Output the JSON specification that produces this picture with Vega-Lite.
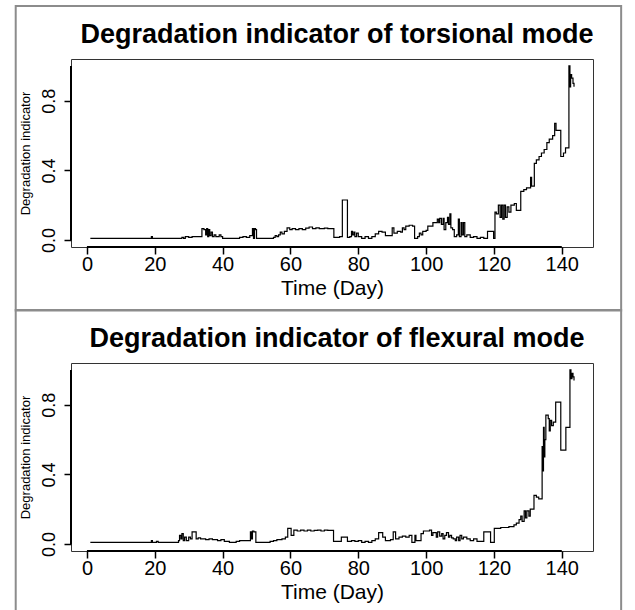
{
  "$schema": "https://vega.github.io/schema/vega-lite/v6.json",
  "padding": {"left": 14, "top": 4, "right": 5, "bottom": 0},
  "background": "white",
  "spacing": -5,
  "datasets": {
    "tor": [
      {"d":1,"v":0.01},{"d":18.8,"v":0.01},{"d":19,"v":0.02},{"d":19.3,"v":0.01},{"d":28,"v":0.015},{"d":28.5,"v":0.01},{"d":29,"v":0.02},{"d":30,"v":0.015},{"d":31,"v":0.02},{"d":33.9,"v":0.065},{"d":34.5,"v":0.06},{"d":35,"v":0.03},{"d":35.3,"v":0.065},{"d":35.6,"v":0.02},{"d":35.9,"v":0.06},{"d":36.2,"v":0.025},{"d":36.6,"v":0.045},{"d":37,"v":0.02},{"d":37.5,"v":0.03},{"d":38,"v":0.02},{"d":39,"v":0.03},{"d":39.5,"v":0.02},{"d":40,"v":0.01},{"d":44,"v":0.01},{"d":45,"v":0.015},{"d":46,"v":0.02},{"d":47,"v":0.015},{"d":48,"v":0.025},{"d":48.8,"v":0.065},{"d":49.1,"v":0.01},{"d":49.4,"v":0.065},{"d":49.7,"v":0.06},{"d":50,"v":0.01},{"d":55,"v":0.015},{"d":55.5,"v":0.025},{"d":56,"v":0.02},{"d":56.5,"v":0.03},{"d":57,"v":0.045},{"d":57.5,"v":0.035},{"d":58.2,"v":0.05},{"d":59,"v":0.07},{"d":59.8,"v":0.06},{"d":60.5,"v":0.065},{"d":61.5,"v":0.06},{"d":62.5,"v":0.065},{"d":63.5,"v":0.06},{"d":64.5,"v":0.068},{"d":65.5,"v":0.075},{"d":66.5,"v":0.065},{"d":67.5,"v":0.07},{"d":68.5,"v":0.065},{"d":70,"v":0.068},{"d":71,"v":0.065},{"d":72.8,"v":0.015},{"d":74.5,"v":0.02},{"d":75.3,"v":0.23},{"d":76.8,"v":0.015},{"d":77.5,"v":0.02},{"d":78,"v":0.05},{"d":78.3,"v":0.03},{"d":78.7,"v":0.045},{"d":79,"v":0.02},{"d":79.5,"v":0.04},{"d":80,"v":0.02},{"d":81,"v":0.01},{"d":82,"v":0.02},{"d":83,"v":0.01},{"d":84,"v":0.02},{"d":85,"v":0.035},{"d":86,"v":0.05},{"d":87,"v":0.045},{"d":88,"v":0.025},{"d":89.5,"v":0.025},{"d":90,"v":0.07},{"d":90.5,"v":0.04},{"d":91.5,"v":0.05},{"d":92.5,"v":0.045},{"d":93,"v":0.07},{"d":93.5,"v":0.06},{"d":94,"v":0.08},{"d":95,"v":0.085},{"d":96,"v":0.08},{"d":96.6,"v":0.01},{"d":97.5,"v":0.02},{"d":98,"v":0.04},{"d":98.5,"v":0.03},{"d":99,"v":0.05},{"d":100,"v":0.055},{"d":100.5,"v":0.08},{"d":101.5,"v":0.08},{"d":102,"v":0.1},{"d":103,"v":0.1},{"d":103.3,"v":0.12},{"d":103.7,"v":0.1},{"d":104,"v":0.125},{"d":104.5,"v":0.09},{"d":105,"v":0.125},{"d":105.3,"v":0.06},{"d":105.8,"v":0.1},{"d":106.3,"v":0.13},{"d":106.6,"v":0.09},{"d":107,"v":0.15},{"d":107.3,"v":0.07},{"d":107.8,"v":0.06},{"d":108.3,"v":0.02},{"d":109,"v":0.03},{"d":109.5,"v":0.12},{"d":109.8,"v":0.02},{"d":110.3,"v":0.1},{"d":110.6,"v":0.03},{"d":111,"v":0.1},{"d":111.4,"v":0.02},{"d":112,"v":0.03},{"d":113,"v":0.015},{"d":114,"v":0.02},{"d":115,"v":0.01},{"d":116,"v":0.015},{"d":117,"v":0.01},{"d":118.1,"v":0.05},{"d":119.9,"v":0.01},{"d":120.3,"v":0.16},{"d":120.7,"v":0.15},{"d":121.3,"v":0.2},{"d":121.8,"v":0.13},{"d":122.2,"v":0.2},{"d":122.6,"v":0.12},{"d":123,"v":0.2},{"d":123.4,"v":0.13},{"d":123.9,"v":0.19},{"d":124.4,"v":0.16},{"d":125,"v":0.2},{"d":126,"v":0.21},{"d":126.6,"v":0.17},{"d":127.9,"v":0.28},{"d":128.8,"v":0.29},{"d":129.6,"v":0.3},{"d":130.5,"v":0.3},{"d":130.8,"v":0.36},{"d":131.1,"v":0.31},{"d":131.9,"v":0.44},{"d":132.5,"v":0.46},{"d":133.3,"v":0.48},{"d":134,"v":0.5},{"d":134.8,"v":0.52},{"d":135.6,"v":0.56},{"d":136.3,"v":0.58},{"d":137.3,"v":0.6},{"d":137.9,"v":0.67},{"d":138.3,"v":0.63},{"d":139.7,"v":0.48},{"d":140.5,"v":0.5},{"d":141.1,"v":0.53},{"d":142.1,"v":1.0},{"d":142.4,"v":0.88},{"d":142.6,"v":0.95},{"d":142.9,"v":0.93},{"d":143.3,"v":0.9},{"d":143.6,"v":0.88}
    ],
    "flex": [
      {"d":1,"v":0.01},{"d":18.8,"v":0.01},{"d":19,"v":0.02},{"d":19.3,"v":0.01},{"d":20.5,"v":0.015},{"d":21,"v":0.01},{"d":27,"v":0.02},{"d":27.3,"v":0.05},{"d":27.7,"v":0.03},{"d":28,"v":0.06},{"d":28.4,"v":0.02},{"d":28.8,"v":0.04},{"d":29.3,"v":0.02},{"d":30,"v":0.04},{"d":30.5,"v":0.03},{"d":31,"v":0.07},{"d":32.2,"v":0.03},{"d":32.8,"v":0.035},{"d":33.5,"v":0.03},{"d":35,"v":0.025},{"d":36,"v":0.03},{"d":37,"v":0.025},{"d":38.5,"v":0.02},{"d":39.5,"v":0.025},{"d":40.5,"v":0.015},{"d":42,"v":0.01},{"d":44,"v":0.015},{"d":45,"v":0.02},{"d":48.2,"v":0.07},{"d":48.5,"v":0.03},{"d":48.8,"v":0.075},{"d":49.2,"v":0.07},{"d":49.8,"v":0.01},{"d":52,"v":0.01},{"d":54,"v":0.015},{"d":55,"v":0.02},{"d":56,"v":0.025},{"d":57.5,"v":0.03},{"d":58.5,"v":0.04},{"d":59.2,"v":0.09},{"d":60.2,"v":0.05},{"d":61,"v":0.08},{"d":62,"v":0.075},{"d":63,"v":0.08},{"d":64,"v":0.075},{"d":65,"v":0.08},{"d":66,"v":0.075},{"d":67,"v":0.078},{"d":68,"v":0.08},{"d":69,"v":0.075},{"d":70,"v":0.08},{"d":71,"v":0.078},{"d":72.7,"v":0.015},{"d":75,"v":0.04},{"d":76.8,"v":0.015},{"d":78,"v":0.02},{"d":79,"v":0.015},{"d":80,"v":0.02},{"d":81,"v":0.01},{"d":82,"v":0.015},{"d":83,"v":0.01},{"d":84,"v":0.02},{"d":85,"v":0.03},{"d":86,"v":0.065},{"d":87.2,"v":0.04},{"d":88,"v":0.02},{"d":89.5,"v":0.025},{"d":90.3,"v":0.07},{"d":91,"v":0.03},{"d":92,"v":0.04},{"d":93,"v":0.045},{"d":94,"v":0.04},{"d":95,"v":0.05},{"d":95.8,"v":0.01},{"d":96.7,"v":0.05},{"d":97,"v":0.02},{"d":98.5,"v":0.06},{"d":99.2,"v":0.075},{"d":101,"v":0.08},{"d":101.6,"v":0.05},{"d":102,"v":0.065},{"d":103,"v":0.04},{"d":103.4,"v":0.07},{"d":104,"v":0.045},{"d":104.6,"v":0.06},{"d":105,"v":0.03},{"d":105.5,"v":0.05},{"d":106,"v":0.065},{"d":106.6,"v":0.04},{"d":107,"v":0.05},{"d":107.5,"v":0.035},{"d":108,"v":0.03},{"d":108.6,"v":0.02},{"d":109,"v":0.04},{"d":109.6,"v":0.02},{"d":110,"v":0.05},{"d":110.5,"v":0.03},{"d":111,"v":0.04},{"d":112,"v":0.03},{"d":113,"v":0.02},{"d":114,"v":0.03},{"d":115,"v":0.015},{"d":117,"v":0.07},{"d":118.8,"v":0.07},{"d":119,"v":0.01},{"d":120.1,"v":0.09},{"d":121,"v":0.09},{"d":122,"v":0.095},{"d":123,"v":0.095},{"d":124.4,"v":0.1},{"d":125.9,"v":0.11},{"d":126.6,"v":0.12},{"d":127.4,"v":0.14},{"d":127.9,"v":0.16},{"d":128.3,"v":0.13},{"d":128.9,"v":0.19},{"d":129.3,"v":0.15},{"d":129.7,"v":0.19},{"d":130.3,"v":0.16},{"d":130.7,"v":0.2},{"d":131.8,"v":0.28},{"d":132.5,"v":0.27},{"d":133.2,"v":0.26},{"d":134.2,"v":0.56},{"d":134.4,"v":0.42},{"d":134.6,"v":0.67},{"d":134.8,"v":0.5},{"d":135,"v":0.6},{"d":135.3,"v":0.74},{"d":136,"v":0.72},{"d":136.3,"v":0.65},{"d":136.6,"v":0.71},{"d":137,"v":0.68},{"d":137.5,"v":0.7},{"d":138.2,"v":0.815},{"d":139.7,"v":0.54},{"d":141.2,"v":0.67},{"d":142.4,"v":1.0},{"d":142.7,"v":0.95},{"d":143,"v":0.98},{"d":143.3,"v":0.96},{"d":143.6,"v":0.94}
    ]
  },
  "vconcat": [
    {
      "width": 522,
      "height": 188,
      "title": {"text": "Degradation indicator of torsional mode", "font": "Liberation Sans", "fontSize": 27, "fontWeight": "bold", "color": "black", "anchor": "middle", "frame": "group", "offset": -44, "dx": 5},
      "layer": [
        {
          "data": {"name": "tor"},
          "mark": {"type": "line", "interpolate": "step-after", "color": "black", "strokeWidth": 1.2},
          "encoding": {
            "x": {"field": "d", "type": "quantitative", "scale": {"domain": [-4.7, 149.2], "nice": false, "zero": false},
              "axis": {"values": [0,20,40,60,80,100,120,140], "domain": false, "grid": false, "tickSize": 7, "tickWidth": 1.5, "tickColor": "black", "labelFont": "Liberation Sans", "labelFontSize": 20, "labelColor": "black", "labelPadding": 0, "labelFlush": false, "labelOverlap": false, "title": "Time (Day)", "titleFont": "Liberation Sans", "titleFontSize": 21, "titleFontWeight": "normal", "titleColor": "black", "titlePadding": 3}},
            "y": {"field": "v", "type": "quantitative", "scale": {"domain": [-0.04, 1.04], "nice": false, "zero": false},
              "axis": {"values": [0,0.2,0.4,0.6,0.8,1], "format": ".1f", "labelExpr": "datum.label == '0.0' || datum.label == '0.4' || datum.label == '0.8' ? datum.label : ''", "domain": false, "grid": false, "tickSize": 7, "tickWidth": 1.5, "tickColor": "black", "labelAngle": -90, "labelAlign": "center", "labelBaseline": "alphabetic", "labelPadding": 10, "labelFont": "Liberation Sans", "labelFontSize": 18, "labelColor": "black", "labelFlush": false, "labelOverlap": false, "title": "Degradation indicator", "titleFont": "Liberation Sans", "titleFontSize": 13, "titleFontWeight": "normal", "titleColor": "black", "titlePadding": 8}}
          }
        },
        {
          "data": {"values": [{}]},
          "mark": {"type": "rect", "fillOpacity": 0, "stroke": "#8c8c8c", "strokeWidth": 2, "clip": false},
          "encoding": {
            "x": {"datum": -21.0, "type": "quantitative"},
            "x2": {"datum": 157.5},
            "y": {"datum": 1.345, "type": "quantitative"},
            "y2": {"datum": -0.405}
          }
        },
        {
          "data": {"values": [{}]},
          "mark": {"type": "rule", "color": "black", "strokeWidth": 2},
          "encoding": {
            "x": {"datum": 0, "type": "quantitative"},
            "x2": {"datum": 140},
            "y": {"datum": -0.04, "type": "quantitative"}
          }
        },
        {
          "data": {"values": [{}]},
          "mark": {"type": "rule", "color": "black", "strokeWidth": 2},
          "encoding": {
            "x": {"datum": -4.7, "type": "quantitative"},
            "y": {"datum": 0, "type": "quantitative"},
            "y2": {"datum": 1}
          }
        }
      ]
    },
    {
      "width": 522,
      "height": 188,
      "title": {"text": "Degradation indicator of flexural mode", "font": "Liberation Sans", "fontSize": 27, "fontWeight": "bold", "color": "black", "anchor": "middle", "frame": "group", "offset": -44, "dx": 5},
      "layer": [
        {
          "data": {"name": "flex"},
          "mark": {"type": "line", "interpolate": "step-after", "color": "black", "strokeWidth": 1.2},
          "encoding": {
            "x": {"field": "d", "type": "quantitative", "scale": {"domain": [-4.7, 149.2], "nice": false, "zero": false},
              "axis": {"values": [0,20,40,60,80,100,120,140], "domain": false, "grid": false, "tickSize": 7, "tickWidth": 1.5, "tickColor": "black", "labelFont": "Liberation Sans", "labelFontSize": 20, "labelColor": "black", "labelPadding": 0, "labelFlush": false, "labelOverlap": false, "title": "Time (Day)", "titleFont": "Liberation Sans", "titleFontSize": 21, "titleFontWeight": "normal", "titleColor": "black", "titlePadding": 3}},
            "y": {"field": "v", "type": "quantitative", "scale": {"domain": [-0.04, 1.04], "nice": false, "zero": false},
              "axis": {"values": [0,0.2,0.4,0.6,0.8,1], "format": ".1f", "labelExpr": "datum.label == '0.0' || datum.label == '0.4' || datum.label == '0.8' ? datum.label : ''", "domain": false, "grid": false, "tickSize": 7, "tickWidth": 1.5, "tickColor": "black", "labelAngle": -90, "labelAlign": "center", "labelBaseline": "alphabetic", "labelPadding": 10, "labelFont": "Liberation Sans", "labelFontSize": 18, "labelColor": "black", "labelFlush": false, "labelOverlap": false, "title": "Degradation indicator", "titleFont": "Liberation Sans", "titleFontSize": 13, "titleFontWeight": "normal", "titleColor": "black", "titlePadding": 8}}
          }
        },
        {
          "data": {"values": [{}]},
          "mark": {"type": "rect", "fillOpacity": 0, "stroke": "#8c8c8c", "strokeWidth": 2, "clip": false},
          "encoding": {
            "x": {"datum": -21.0, "type": "quantitative"},
            "x2": {"datum": 157.5},
            "y": {"datum": 1.345, "type": "quantitative"},
            "y2": {"datum": -0.405}
          }
        },
        {
          "data": {"values": [{}]},
          "mark": {"type": "rule", "color": "black", "strokeWidth": 2},
          "encoding": {
            "x": {"datum": 0, "type": "quantitative"},
            "x2": {"datum": 140},
            "y": {"datum": -0.04, "type": "quantitative"}
          }
        },
        {
          "data": {"values": [{}]},
          "mark": {"type": "rule", "color": "black", "strokeWidth": 2},
          "encoding": {
            "x": {"datum": -4.7, "type": "quantitative"},
            "y": {"datum": 0, "type": "quantitative"},
            "y2": {"datum": 1}
          }
        }
      ]
    }
  ],
  "config": {
    "font": "Liberation Sans",
    "view": {"stroke": "#333333", "strokeWidth": 1}
  }
}
